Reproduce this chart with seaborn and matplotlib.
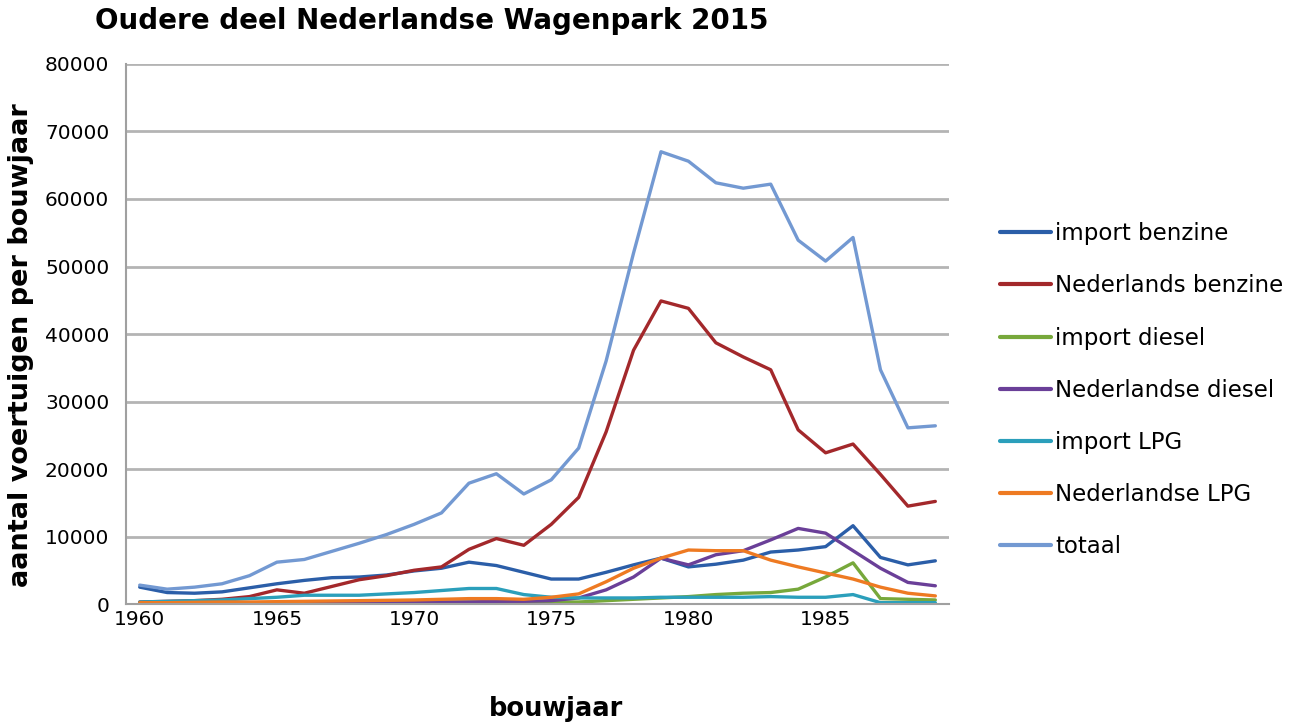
import numpy as np
import pandas as pd
import matplotlib
matplotlib.use("Agg")
import matplotlib.pyplot as plt
import seaborn as sns

years = list(range(1960, 1990))

import_benzine = [2500, 1700, 1600, 1800, 2400, 3000, 3500, 3900, 4000, 4300,
                  4900, 5300, 6200, 5700, 4700, 3700, 3700, 4700, 5800, 6800,
                  5500, 5900, 6500, 7700, 8000, 8500, 11600, 6900, 5800, 6400]
nl_benzine = [300, 400, 500, 700, 1100, 2100, 1600, 2600, 3600, 4200,
              5000, 5500, 8100, 9700, 8700, 11800, 15800, 25500, 37600, 44900,
              43800, 38700, 36600, 34700, 25800, 22400, 23700, 19200, 14500, 15200]
import_diesel = [100, 100, 100, 100, 100, 150, 150, 200, 200, 200,
                 250, 250, 300, 300, 300, 300, 300, 500, 700, 900,
                 1100, 1400, 1600, 1700, 2200, 4000, 6100, 800, 700, 600]
nl_diesel = [100, 100, 100, 100, 100, 100, 100, 100, 150, 150,
             200, 300, 300, 400, 400, 500, 900, 2100, 4000, 6800,
             5800, 7300, 7900, 9500, 11200, 10500, 7900, 5300, 3200, 2700]
import_lpg = [300, 400, 500, 600, 800, 1000, 1300, 1300, 1300, 1500,
              1700, 2000, 2300, 2300, 1400, 1000, 900, 900, 900, 1000,
              1000, 1000, 1000, 1100, 1000, 1000, 1400, 200, 200, 200]
nl_lpg = [200, 200, 250, 300, 300, 350, 400, 450, 500, 550,
          600, 700, 800, 800, 700, 1000, 1500, 3300, 5300, 6800,
          8000, 7900, 7900, 6500, 5500, 4600, 3700, 2500, 1600, 1200]
totaal = [2800, 2200, 2500, 3000, 4200, 6200, 6600, 7800, 9000, 10300,
          11800, 13500, 17900, 19300, 16300, 18400, 23100, 36000, 52000, 67000,
          65600, 62400, 61600, 62200, 53900, 50800, 54300, 34700, 26100, 26400]

series_names = ["import benzine", "Nederlands benzine", "import diesel",
                "Nederlandse diesel", "import LPG", "Nederlandse LPG", "totaal"]
series_values = [import_benzine, nl_benzine, import_diesel, nl_diesel,
                 import_lpg, nl_lpg, totaal]
colors = ["#2b5ea8", "#a3282b", "#77a83b", "#6a3f98", "#2b9fbb", "#ee7a22", "#7399d2"]

df = pd.concat([pd.DataFrame({"bouwjaar": years, "aantal": v, "serie": n})
                for n, v in zip(series_names, series_values)], ignore_index=True)

sns.set_style("white")
plt.rcParams["font.family"] = ["DejaVu Sans"]
plt.rcParams["text.color"] = "black"
plt.rcParams["axes.labelcolor"] = "black"
plt.rcParams["xtick.labelcolor"] = "black"
plt.rcParams["ytick.labelcolor"] = "black"

fig = plt.figure(figsize=(12.99, 7.28), dpi=100)
ax = fig.add_axes([0.097, 0.1703, 0.6336, 0.7418])

sns.lineplot(data=df, x="bouwjaar", y="aantal", hue="serie", hue_order=series_names,
             palette=dict(zip(series_names, colors)), linewidth=2.4, ax=ax)

ax.set_xlim(1959.5, 1989.5)
ax.set_ylim(0, 80000)
ax.set_yticks(range(0, 80001, 10000))
ax.set_xticks(range(1960, 1990, 5))
ax.set_xticks(np.arange(1959.5, 1990, 5), minor=True)
ax.tick_params(axis="x", which="major", length=0, labelsize=14.5, pad=4)
ax.tick_params(axis="x", which="minor", length=7, width=1.5, color="#a0a0a0")
ax.tick_params(axis="y", length=6, width=1.5, color="#a0a0a0", labelsize=14.5, pad=6)
ax.grid(axis="y", color="#b4b4b4", linewidth=2)
ax.set_axisbelow(True)
for s in ["top", "right"]:
    ax.spines[s].set_visible(False)
for s in ["left", "bottom"]:
    ax.spines[s].set_color("#a0a0a0")
    ax.spines[s].set_linewidth(1.5)

ax.set_xlabel("bouwjaar", fontsize=18.5, fontweight="bold")
ax.xaxis.set_label_coords(0.522, -0.17)
ax.set_ylabel("aantal voertuigen per bouwjaar", fontsize=19.5, fontweight="bold")
ax.yaxis.set_label_coords(-0.112, 0.48)
fig.text(0.073, 0.99, "Oudere deel Nederlandse Wagenpark 2015", fontsize=20,
         fontweight="bold", ha="left", va="top")

leg = ax.legend(loc="center left", bbox_to_anchor=(1.037, 0.396), frameon=False,
                fontsize=16.5, handlelength=2.2, handletextpad=0.2, labelspacing=1.27)
for line in leg.get_lines():
    line.set_linewidth(3)

fig.savefig("out.png", dpi=100)
